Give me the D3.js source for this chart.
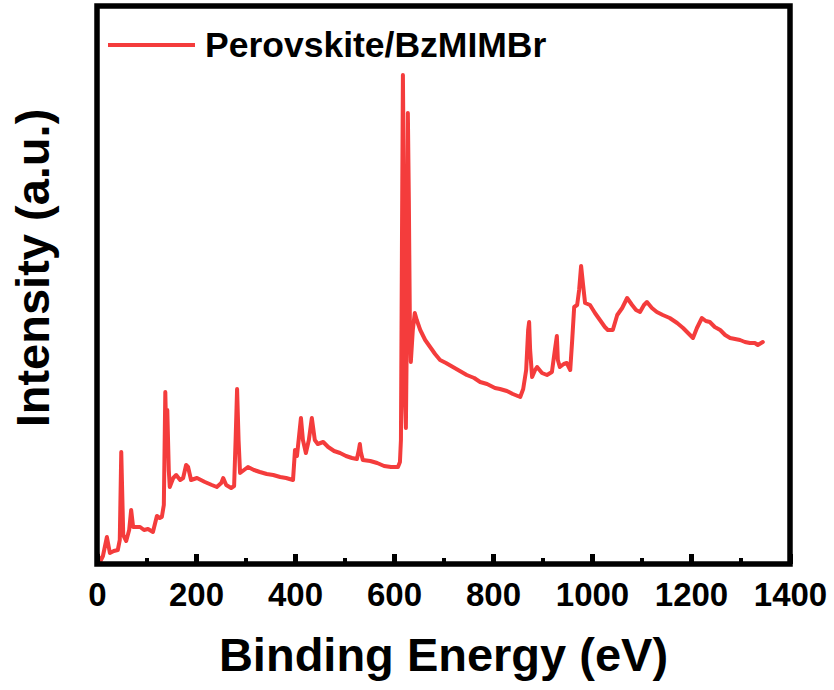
<!DOCTYPE html>
<html>
<head>
<meta charset="utf-8">
<script src="https://cdn.jsdelivr.net/npm/d3@7"></script>
<style>
  html, body { margin: 0; padding: 0; background: #fff; }
  text { font-family: Arial, "Liberation Sans", sans-serif; font-weight: bold; fill: #000; }
</style>
</head>
<body>
<div id="chart"></div>
<script>
// binding energy (eV)
var energy = [0, 6, 12, 20, 26, 34, 42, 46, 49, 53, 59, 65, 69, 73, 79, 87, 95, 103, 113, 121,
  127, 131, 135, 138, 140, 142, 145, 147, 154, 160, 168, 174, 180, 184, 190, 202, 218, 232, 242, 251,
  255, 261, 271, 277, 280, 283, 286, 289, 297, 305, 317, 329, 343, 356, 370, 382, 396, 400, 404, 412,
  416, 422, 428, 434, 440, 446, 457, 467, 479, 491, 503, 515, 525, 529, 531, 533, 537, 552, 566, 580,
  594, 608, 612, 614, 616, 618, 620, 622, 624, 626, 628, 630, 632, 634, 638, 642, 646, 653, 663, 673,
  683, 693, 705, 719, 733, 747, 762, 774, 788, 804, 814, 828, 840, 855, 861, 867, 871, 873, 875, 879,
  885, 889, 899, 909, 919, 925, 929, 931, 935, 943, 949, 956, 960, 964, 970, 974, 978, 982, 986, 996,
  1006, 1016, 1026, 1032, 1042, 1051, 1061, 1071, 1081, 1089, 1097, 1105, 1111, 1121, 1131, 1143, 1157, 1172, 1184, 1194,
  1204, 1212, 1222, 1230, 1238, 1248, 1259, 1269, 1279, 1289, 1299, 1309, 1319, 1329, 1335, 1345];

// intensity (a.u.)
var intensity = [12, 2, 8, 27, 11, 13, 14, 24, 112, 29, 23, 34, 54, 37, 37, 37, 34, 35, 32, 48,
  46, 47, 59, 172, 124, 154, 94, 77, 86, 89, 84, 86, 99, 97, 84, 86, 82, 79, 77, 81,
  86, 79, 76, 78, 124, 175, 124, 91, 94, 97, 94, 92, 90, 89, 87, 86, 84, 114, 108, 146,
  124, 111, 124, 146, 124, 120, 122, 117, 113, 111, 108, 106, 105, 114, 120, 112, 104, 103, 101, 98,
  97, 97, 102, 124, 314, 489, 364, 164, 136, 234, 451, 364, 244, 202, 234, 251, 244, 234, 224, 217,
  210, 204, 201, 197, 193, 189, 186, 182, 180, 176, 175, 173, 170, 167, 175, 194, 234, 242, 214, 187,
  194, 197, 191, 189, 192, 214, 228, 204, 197, 200, 201, 194, 224, 257, 259, 274, 298, 279, 261, 259,
  251, 244, 237, 234, 234, 249, 256, 266, 259, 254, 252, 259, 262, 256, 252, 249, 246, 241, 236, 231,
  226, 236, 246, 243, 242, 237, 234, 229, 226, 225, 224, 222, 221, 221, 219, 222];

var majorTicks = [0, 200, 400, 600, 800, 1000, 1200, 1400];
var minorTicks = [100, 300, 500, 700, 900, 1100, 1300];
var seriesName = "Perovskite/BzMIMBr";

var width = 834, height = 690;
var margin = { left: 97, right: 44, top: 6, bottom: 126 };
var lineColor = "#f43c3c";

var svg = d3.select("#chart").append("svg")
    .attr("width", width)
    .attr("height", height);

var x = d3.scaleLinear()
    .domain([0, 1400])
    .range([margin.left, width - margin.right]);

var y = d3.scaleLinear()
    .domain([0, 558])
    .range([height - margin.bottom, margin.top]);

var points = energy.map(function(e, i) { return [e, intensity[i]]; });

var line = d3.line()
    .x(function(d) { return x(d[0]); })
    .y(function(d) { return y(d[1]); });

svg.append("path")
    .datum(points)
    .attr("fill", "none")
    .attr("stroke", lineColor)
    .attr("stroke-width", 4)
    .attr("stroke-linejoin", "round")
    .attr("stroke-linecap", "round")
    .attr("d", line);

// minor ticks, inward
var minorAxis = svg.append("g")
    .attr("transform", "translate(0," + y(0) + ")")
    .call(d3.axisBottom(x).tickValues(minorTicks).tickSize(-6).tickFormat(""));
minorAxis.select(".domain").remove();
minorAxis.selectAll("line").attr("stroke", "#000").attr("stroke-width", 4);

// major ticks + labels
var xAxis = svg.append("g")
    .attr("transform", "translate(0," + y(0) + ")")
    .call(d3.axisBottom(x).tickValues(majorTicks).tickSize(-10).tickPadding(19).tickFormat(d3.format("d")));
xAxis.select(".domain").remove();
xAxis.selectAll("line").attr("stroke", "#000").attr("stroke-width", 5);
xAxis.selectAll("text")
    .style("font-size", "33px")
    .style("font-family", "Arial, 'Liberation Sans', sans-serif")
    .style("font-weight", "bold")
    .attr("fill", "#000");

// frame
svg.append("rect")
    .attr("x", x(0))
    .attr("y", y(558))
    .attr("width", x(1400) - x(0))
    .attr("height", y(0) - y(558))
    .attr("fill", "none")
    .attr("stroke", "#000")
    .attr("stroke-width", 5.5);

// axis titles
svg.append("text")
    .attr("x", (x(0) + x(1400)) / 2)
    .attr("y", 671)
    .attr("text-anchor", "middle")
    .style("font-size", "47px")
    .text("Binding Energy (eV)");

svg.append("text")
    .attr("transform", "translate(49," + 268 + ") rotate(-90)")
    .attr("text-anchor", "middle")
    .style("font-size", "47px")
    .text("Intensity (a.u.)");

// legend
svg.append("line")
    .attr("x1", 108).attr("x2", 195)
    .attr("y1", 45).attr("y2", 45)
    .attr("stroke", lineColor)
    .attr("stroke-width", 4);

svg.append("text")
    .attr("x", 205)
    .attr("y", 57)
    .style("font-size", "35.5px")
    .text(seriesName);
</script>
</body>
</html>
